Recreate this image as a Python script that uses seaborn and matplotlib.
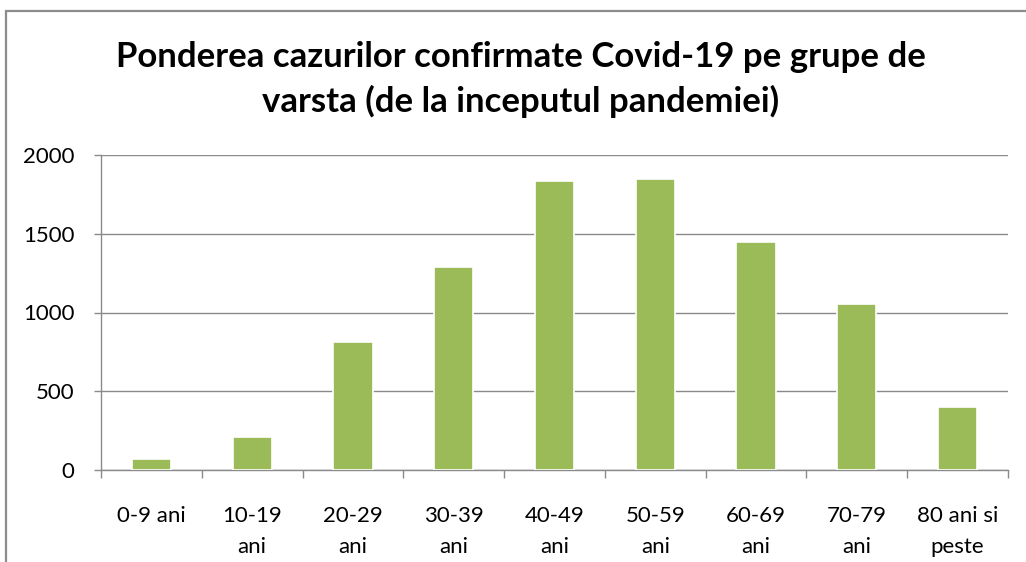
import matplotlib
matplotlib.use("Agg")
import matplotlib.pyplot as plt
import seaborn as sns
import pandas as pd
from matplotlib.patches import Rectangle

categories = ["0-9 ani", "10-19\nani", "20-29\nani", "30-39\nani", "40-49\nani",
              "50-59\nani", "60-69\nani", "70-79\nani", "80 ani si\npeste"]
values = [68, 212, 813, 1292, 1838, 1845, 1449, 1055, 402]
y_ticks = [0, 500, 1000, 1500, 2000]
title = "Ponderea cazurilor confirmate Covid-19 pe grupe de\nvarsta (de la inceputul pandemiei)"

sns.set_theme(style="white")
plt.rcParams['font.family'] = ['Lato', 'DejaVu Sans']

df = pd.DataFrame({"grupa": categories, "cazuri": values})

fig = plt.figure(figsize=(10.26, 5.62), dpi=100)
ax = fig.add_axes([101/1026, 1-470/562, (1008-101)/1026, (470-155)/562])

sns.barplot(data=df, x="grupa", y="cazuri", color="#9BBB59", saturation=1,
            width=0.39, edgecolor="white", linewidth=1.2, ax=ax, zorder=3)

ax.set_ylim(0, 2000)
ax.set_xlim(-0.5, len(categories) - 0.5)
ax.set_yticks(y_ticks)
ax.set_yticklabels([str(v) for v in y_ticks])
ax.yaxis.grid(True, color="#8a8a8a", linewidth=1.0, zorder=0)
ax.set_axisbelow(True)
ax.set_xlabel("")
ax.set_ylabel("")

for s in ["top", "right"]:
    ax.spines[s].set_visible(False)
for s in ["left", "bottom"]:
    ax.spines[s].set_color("#8a8a8a")
    ax.spines[s].set_linewidth(1.0)

# y ticks outward
ax.tick_params(axis="y", which="major", direction="out", length=5, width=1.0,
               color="#8a8a8a", left=True, pad=14, labelsize=16, labelcolor="black")
# x ticks at category boundaries
ax.set_xticks(range(len(categories)))
ax.set_xticklabels(categories, linespacing=1.7)
ax.tick_params(axis="x", which="major", length=0, pad=26, labelsize=16, labelcolor="black")
ax.set_xticks([i - 0.5 for i in range(len(categories) + 1)], minor=True)
ax.tick_params(axis="x", which="minor", direction="out", length=6, width=1.0,
               color="#8a8a8a", bottom=True)
for lbl in ax.get_xticklabels():
    lbl.set_verticalalignment("top")

fig.suptitle(title, x=521/1026, y=1-41/562, fontsize=25, fontweight="bold",
             va="top", linespacing=1.45, color="black")

# chart border
fig.patches.append(Rectangle((6/1026, -0.1), 1.2, 1 - 11/562 + 0.1, transform=fig.transFigure,
                             fill=False, edgecolor="#8c8c8c", linewidth=1.6, zorder=10))

fig.savefig("out.png", dpi=100)
